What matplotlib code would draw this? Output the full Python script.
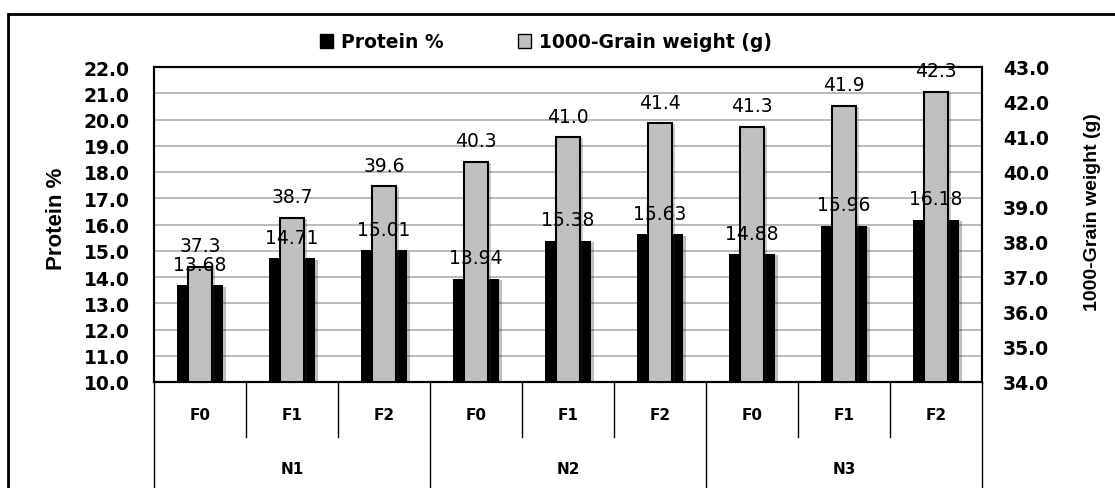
import numpy as np
import matplotlib.pyplot as plt
from matplotlib.patches import Patch, Rectangle
from matplotlib.lines import Line2D
import matplotlib.patheffects as pe

n_groups = ['N1', 'N2', 'N3']
f_levels = ['F0', 'F1', 'F2', 'F0', 'F1', 'F2', 'F0', 'F1', 'F2']
protein = [13.68, 14.71, 15.01, 13.94, 15.38, 15.63, 14.88, 15.96, 16.18]
grain_wt = [37.3, 38.7, 39.6, 40.3, 41.0, 41.4, 41.3, 41.9, 42.3]

x = np.arange(len(f_levels))
shadow = [pe.SimplePatchShadow(offset=(2, -1), alpha=0.25), pe.Normal()]

fig = plt.figure(figsize=(11.15, 4.89), dpi=100)
ax = fig.add_axes([154/1115, 106/489, 828/1115, 315/489])
ax2 = ax.twinx()

ax.bar(x, protein, width=0.51, color='black', zorder=2, path_effects=shadow)
ax2.bar(x, grain_wt, width=0.26, color='#c0c0c0', edgecolor='black', linewidth=1.5,
        zorder=2, path_effects=shadow)

ax.set_ylim(10, 22)
ax2.set_ylim(34, 43)
ax.set_xlim(-0.5, len(x) - 0.5)
ax.set_yticks(np.arange(10, 22.1, 1))
ax2.set_yticks(np.arange(34, 43.1, 1))
ax.set_yticklabels(['%.1f' % v for v in np.arange(10, 22.1, 1)])
ax2.set_yticklabels(['%.1f' % v for v in np.arange(34, 43.1, 1)])
ax.yaxis.grid(True, color='#b4b4b4', linewidth=1.3, zorder=0)
ax.set_axisbelow(True)
ax.set_xticks([])
ax.tick_params(axis='y', length=0, pad=17.5, labelsize=13.5)
ax2.tick_params(axis='y', length=0, pad=15, labelsize=13.5)
for lab in ax.get_yticklabels() + ax2.get_yticklabels():
    lab.set_fontweight('bold')
for a in (ax, ax2):
    for s in a.spines.values():
        s.set_color('black')
        s.set_linewidth(1.5)

ax.set_ylabel('Protein %', fontsize=16, fontweight='bold', family='Liberation Sans')
ax2.set_ylabel('1000-Grain weight (g)', fontsize=14, fontweight='bold', family='Liberation Sans')
for a, lx, ly in ((ax, (56 - 154) / 828, (383 - 219) / 315),
                  (ax2, (1093 - 154) / 828, (383 - 212) / 315)):
    a.yaxis.label.set_ha('center')
    a.yaxis.label.set_va('center')
    a.yaxis.set_label_coords(lx, ly)

# data labels
for xi, p, g in zip(x, protein, grain_wt):
    ax2.annotate('%.2f' % p, (xi, p), xycoords=ax.transData, xytext=(0, 11),
                 textcoords='offset points', ha='center', va='baseline', fontsize=13.5, zorder=5)
    ax2.annotate('%.1f' % g, (xi, g), xytext=(0, 11), textcoords='offset points',
                 ha='center', va='baseline', fontsize=13.5, zorder=5)

# two-level category axis
tr = ax.get_xaxis_transform()
for i in range(len(x) + 1):
    y0 = -0.3365 if i % 3 == 0 else -0.1746
    ax.add_line(Line2D([i - 0.5, i - 0.5], [0, y0], transform=tr, color='black',
                       linewidth=1, clip_on=False))
for xi, f in zip(x, f_levels):
    ax.text(xi, -0.1016, f, transform=tr, ha='center', va='center', fontsize=11,
            fontweight='bold')
for k, n in enumerate(n_groups):
    ax.text(3 * k + 1, -0.276, n, transform=tr, ha='center', va='center', fontsize=11,
            fontweight='bold')

handles = [Patch(facecolor='black', edgecolor='black', label='Protein %'),
           Patch(facecolor='#c0c0c0', edgecolor='black', label='1000-Grain weight (g)')]
fig.legend(handles=handles, loc='center', bbox_to_anchor=(0.4897, 1 - 43/489), ncol=2,
           frameon=False, handlelength=0.7, handleheight=0.7, handletextpad=0.4,
           columnspacing=4.0, prop={'weight': 'bold', 'size': 13.5})

fig.patches.append(Rectangle((8/1115, -0.1), 1.2, 1.1 - 15/489, transform=fig.transFigure,
                             fill=False, edgecolor='black', linewidth=2))

fig.savefig('out.png', dpi=100)
